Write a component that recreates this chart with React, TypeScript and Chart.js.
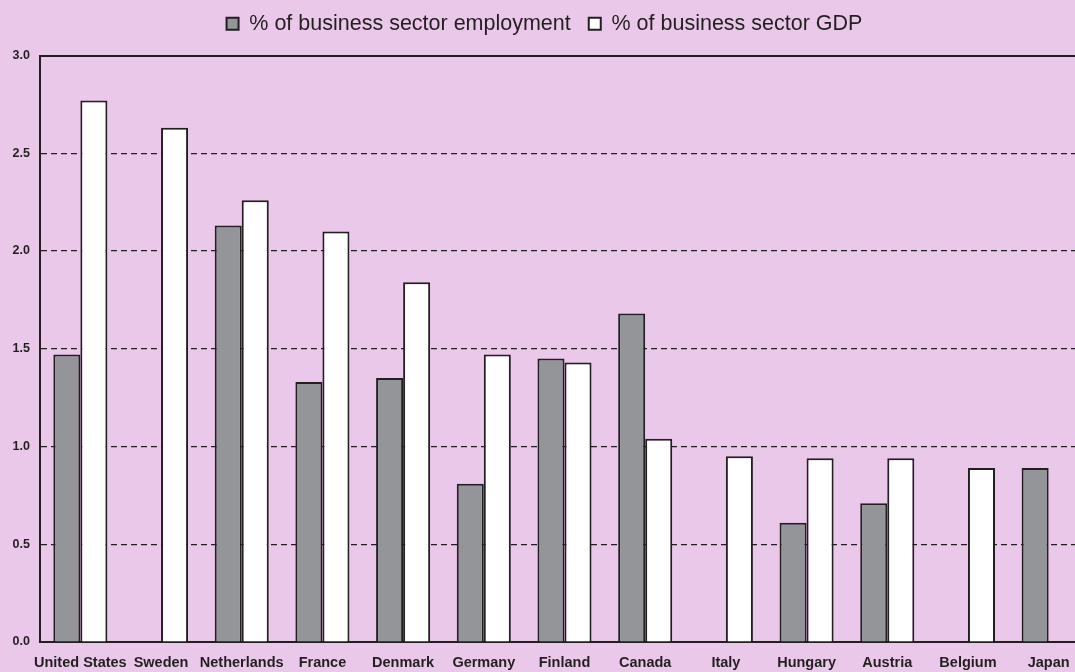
import React, { useEffect, useRef } from "react";
import { Chart, registerables } from "chart.js";

Chart.register(...registerables);

const categories = [
  "United States", "Sweden", "Netherlands", "France", "Denmark", "Germany",
  "Finland", "Canada", "Italy", "Hungary", "Austria", "Belgium", "Japan",
];
const employmentShare: (number | null)[] = [
  1.47, null, 2.13, 1.33, 1.35, 0.81, 1.45, 1.68, null, 0.61, 0.71, null, 0.89,
];
const gdpShare: (number | null)[] = [
  2.77, 2.63, 2.26, 2.10, 1.84, 1.47, 1.43, 1.04, 0.95, 0.94, 0.94, 0.89, null,
];
const yTicks = [0, 0.5, 1.0, 1.5, 2.0, 2.5, 3.0];

const INK = "#231F20";
const BG = "#EAC8EA";
const GREY = "#939598";

const legendSpacer = {
  id: "legendSpacer",
  beforeInit(chart: any) {
    const legend = chart.legend;
    if (!legend) return;
    const origFit = legend.fit;
    legend.fit = function () {
      origFit.call(this);
      this.height += 6;
    };
    const origDraw = legend.draw;
    legend.draw = function (...args: any[]) {
      const ctx = this.ctx;
      ctx.save();
      ctx.translate(0, -5);
      origDraw.apply(this, args);
      ctx.restore();
    };
  },
};

export default function App() {
  const ref = useRef<HTMLCanvasElement | null>(null);
  useEffect(() => {
    if (!ref.current) return;
    const chart = new Chart(ref.current, {
      type: "bar",
      data: {
        labels: categories,
        datasets: [
          {
            label: "% of business sector employment",
            data: employmentShare,
            backgroundColor: GREY,
            borderColor: INK,
            borderWidth: 2,
            categoryPercentage: 0.67,
            barPercentage: 1.0,
          },
          {
            label: "% of business sector GDP",
            data: gdpShare,
            backgroundColor: "#FFFFFF",
            borderColor: INK,
            borderWidth: 2,
            categoryPercentage: 0.67,
            barPercentage: 1.0,
          },
        ],
      },
      plugins: [legendSpacer],
      options: {
        responsive: false,
        animation: false,
        layout: { padding: { top: 0, left: 0, right: 0, bottom: 0 } },
        plugins: {
          legend: {
            display: true,
            position: "top",
            labels: {
              boxWidth: 12,
              boxHeight: 12,
              padding: 18,
              color: INK,
              font: { family: "'Liberation Sans', Arial, sans-serif", size: 21.5 },
            },
          },
          tooltip: { enabled: false },
        },
        scales: {
          x: {
            grid: { display: false, drawTicks: false },
            border: { display: true, color: INK, width: 2 },
            ticks: {
              color: INK,
              padding: 12,
              maxRotation: 0,
              autoSkip: false,
              font: { family: "'Liberation Sans', Arial, sans-serif", size: 14.5, weight: "bold" },
            },
            afterFit: (s: any) => { s.height = 30; },
          },
          y: {
            min: 0,
            max: 3,
            afterBuildTicks: (s: any) => { s.ticks = yTicks.map((v) => ({ value: v })); },
            grid: {
              drawTicks: false,
              color: INK,
              lineWidth: (c: any) => (c.tick && c.tick.value === 3 ? 2 : 1.2),
            },
            border: {
              display: true,
              color: INK,
              width: 2,
              dash: (c: any) => (c.tick && c.tick.value > 0 && c.tick.value < 3 ? [6, 4] : []),
            },
            ticks: {
              color: INK,
              padding: 10,
              callback: (v: any) => Number(v).toFixed(1),
              font: { family: "'Liberation Sans', Arial, sans-serif", size: 12.5, weight: "bold" },
            },
            afterFit: (s: any) => { s.width = 40; },
          },
        },
      } as any,
    });
    return () => chart.destroy();
  }, []);
  return (
    <div style={{ position: "fixed", left: 0, top: 0, width: 1075, height: 672, overflow: "hidden", background: BG }}>
      <canvas ref={ref} width={1089} height={672} style={{ width: 1089, height: 672, display: "block" }} />
    </div>
  );
}
